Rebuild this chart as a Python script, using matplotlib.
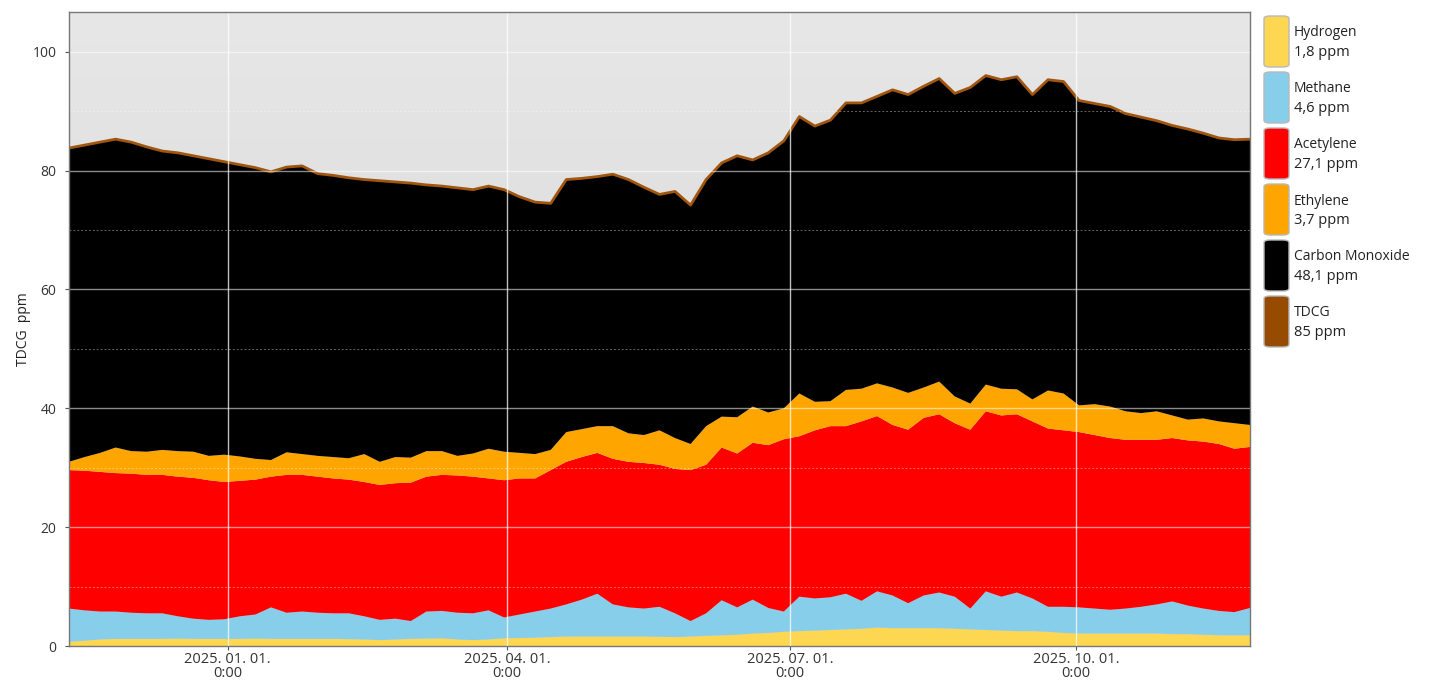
import numpy as np
import pandas as pd
import matplotlib
matplotlib.use("Agg")
import matplotlib.pyplot as plt
from matplotlib.patches import FancyBboxPatch
from matplotlib.colors import LinearSegmentedColormap

plt.rcParams['font.family'] = ['Open Sans', 'DejaVu Sans']

# ---- data (ppm), sampled every 5 days from 2024-11-11 ----
start_date = "2024-11-11"
n_points = 77

hydrogen = [0.7, 0.9, 1.1, 1.2, 1.2, 1.2, 1.2, 1.25, 1.2, 1.2, 1.2, 1.2, 1.25, 1.2, 1.2, 1.2,
            1.2, 1.2, 1.15, 1.1, 1.0, 1.1, 1.2, 1.25, 1.3, 1.1, 1.0, 1.1, 1.3, 1.35, 1.4, 1.5,
            1.6, 1.6, 1.6, 1.6, 1.6, 1.6, 1.55, 1.5, 1.6, 1.7, 1.8, 1.9, 2.1, 2.2, 2.4, 2.5,
            2.6, 2.7, 2.8, 2.9, 3.1, 3.0, 3.0, 3.0, 3.0, 2.9, 2.8, 2.7, 2.6, 2.5, 2.5, 2.4,
            2.2, 2.1, 2.1, 2.1, 2.1, 2.1, 2.1, 2.0, 2.0, 1.9, 1.8, 1.8, 1.8]
methane = [5.6, 5.1, 4.7, 4.6, 4.4, 4.3, 4.3, 3.75, 3.4, 3.2, 3.3, 3.8, 4.05, 5.3, 4.4, 4.6,
           4.4, 4.3, 4.35, 3.9, 3.4, 3.5, 3.0, 4.55, 4.6, 4.5, 4.5, 4.9, 3.5, 3.95, 4.4, 4.8,
           5.4, 6.2, 7.2, 5.4, 4.9, 4.7, 5.05, 4.0, 2.6, 3.8, 5.9, 4.6, 5.7, 4.2, 3.4, 5.8,
           5.4, 5.5, 6.0, 4.7, 6.1, 5.5, 4.2, 5.5, 6.0, 5.4, 3.5, 6.5, 5.7, 6.5, 5.5, 4.2,
           4.4, 4.4, 4.2, 4.0, 4.2, 4.5, 4.9, 5.5, 4.8, 4.4, 4.1, 3.9, 4.6]
acetylene = [23.3, 23.5, 23.5, 23.3, 23.4, 23.3, 23.3, 23.5, 23.7, 23.5, 23.1, 22.8, 22.7, 22.0,
             23.2, 23.0, 22.9, 22.7, 22.5, 22.6, 22.7, 22.8, 23.3, 22.7, 22.9, 23.1, 23.0, 22.2,
             23.1, 22.9, 22.4, 23.3, 24.0, 24.0, 23.7, 24.5, 24.5, 24.5, 23.9, 24.3, 25.4, 25.0,
             25.7, 25.9, 26.4, 27.4, 29.0, 27.0, 28.3, 28.8, 28.2, 30.2, 29.5, 28.7, 29.2, 29.9,
             30.0, 29.2, 30.1, 30.3, 30.5, 30.0, 29.8, 30.0, 29.7, 29.5, 29.2, 28.9, 28.4, 28.1,
             27.7, 27.5, 27.8, 28.1, 28.1, 27.5, 27.1]
ethylene = [1.4, 2.3, 3.2, 4.3, 3.8, 3.9, 4.2, 4.3, 4.4, 4.1, 4.6, 4.1, 3.5, 2.8, 3.8, 3.5,
            3.5, 3.6, 3.6, 4.7, 3.9, 4.4, 4.2, 4.3, 4.0, 3.3, 3.9, 5.0, 4.8, 4.3, 4.1, 3.4,
            5.0, 4.7, 4.5, 5.5, 4.8, 4.7, 5.8, 5.2, 4.4, 6.5, 5.2, 6.1, 6.1, 5.5, 5.2, 7.2,
            4.8, 4.2, 6.1, 5.5, 5.5, 6.3, 6.2, 5.1, 5.5, 4.5, 4.4, 4.5, 4.5, 4.2, 3.7, 6.4,
            6.2, 4.5, 5.2, 5.3, 4.8, 4.5, 4.8, 3.8, 3.5, 3.9, 3.8, 4.3, 3.7]
carbon_monoxide = [52.8, 52.5, 52.3, 51.9, 52.0, 51.3, 50.3, 50.2, 49.8, 50.0, 49.3, 49.1, 49.0,
                   48.5, 48.0, 48.5, 47.5, 47.4, 47.2, 46.2, 47.3, 46.3, 46.2, 44.8, 44.6, 45.1,
                   44.4, 44.2, 44.1, 43.1, 42.4, 41.5, 42.5, 42.2, 42.0, 42.4, 42.7, 41.7, 39.7,
                   41.5, 40.2, 41.5, 42.7, 44.0, 41.5, 43.7, 45.0, 46.6, 46.4, 47.3, 48.3, 48.1,
                   48.3, 50.1, 50.2, 50.7, 51.0, 51.0, 53.2, 52.0, 52.0, 52.6, 51.3, 52.3, 52.5,
                   51.3, 50.6, 50.5, 50.1, 49.8, 48.9, 48.8, 48.9, 48.0, 47.7, 47.7, 48.1]

series_names = ["Hydrogen", "Methane", "Acetylene", "Ethylene", "Carbon Monoxide", "TDCG"]
legend_values = ["1,8 ppm", "4,6 ppm", "27,1 ppm", "3,7 ppm", "48,1 ppm", "85 ppm"]
series_colors = ["#FDD652", "#87CEEB", "#FF0000", "#FFA500", "#000000", "#964B00"]

tick_dates = ["2025-01-01", "2025-04-01", "2025-07-01", "2025-10-01"]
tick_labels = ["2025. 01. 01.\n0:00", "2025. 04. 01.\n0:00", "2025. 07. 01.\n0:00", "2025. 10. 01.\n0:00"]

# ---- figure ----
W, H = 1448, 680
fig = plt.figure(figsize=(W / 100, H / 100), dpi=100)
ax = fig.add_axes([69 / W, 1 - 646 / H, (1250 - 69) / W, (646 - 12) / H])

dates = pd.date_range(start_date, periods=n_points, freq="5D")
stack = [hydrogen, methane, acetylene, ethylene, carbon_monoxide]

# background gradient
grad = np.linspace(0, 1, 256).reshape(-1, 1)
bg_cmap = LinearSegmentedColormap.from_list("bg", ["#e7e7e7", "#d3d3d3"])
ax.imshow(grad, aspect="auto", cmap=bg_cmap, extent=[0, 1, 0, 1],
          transform=ax.transAxes, zorder=0)

ax.stackplot(dates, *stack, colors=series_colors[:5], linewidth=0, zorder=2)
total = np.sum(np.array(stack), axis=0)
ax.plot(dates, total, color="#a0560f", lw=2.0, zorder=3)

ax.set_xlim(pd.Timestamp("2024-11-11"), pd.Timestamp("2025-11-26"))
ax.set_ylim(0, 106.7)

# grid
for yv in [20, 40, 60, 80, 100]:
    ax.axhline(yv, color="white", lw=1.0, alpha=0.55, zorder=4)
for yv in [10, 30, 50, 70, 90]:
    ax.axhline(yv, color="white", lw=0.7, alpha=0.4, ls=(0, (2, 2)), zorder=4)
for d in tick_dates:
    ax.axvline(pd.Timestamp(d), color="white", lw=1.0, alpha=0.75, zorder=4)

ax.set_yticks([0, 20, 40, 60, 80, 100])
ax.set_yticklabels(["0", "20", "40", "60", "80", "100"], fontsize=10, color="#333333")
ax.set_xticks([pd.Timestamp(d) for d in tick_dates])
ax.set_xticklabels(tick_labels, fontsize=10.5, color="#333333", linespacing=0.95)
ax.tick_params(axis="both", length=3, color="#555555", width=0.8)
ax.tick_params(axis="x", pad=1)
ax.tick_params(axis="y", pad=6)
for s in ax.spines.values():
    s.set_color("#777777")
    s.set_linewidth(1.0)
    s.set_zorder(5)

ax.set_ylabel("TDCG  ppm", fontsize=10, color="#222222")
ax.yaxis.set_label_coords((31 - 69) / (1250 - 69), 0.5)

# legend (manual)
entry_h = 56
for i, (name, val, col) in enumerate(zip(series_names, legend_values, series_colors)):
    top = 16 + i * entry_h
    px, pw, ph = 1264, 25, 51
    patch = FancyBboxPatch((px / W, 1 - (top + ph) / H), pw / W, ph / H,
                           boxstyle="round,pad=0,rounding_size=0.004",
                           transform=fig.transFigure, facecolor=col,
                           edgecolor="#b8b8b8", linewidth=1.0)
    fig.patches.append(patch)
    fig.text(1294 / W, 1 - (top + 17) / H, name, fontsize=10, color="#222222",
             va="center", ha="left")
    fig.text(1294 / W, 1 - (top + 36) / H, val, fontsize=10.5, color="#222222",
             va="center", ha="left")

fig.savefig("out.png", dpi=100)
